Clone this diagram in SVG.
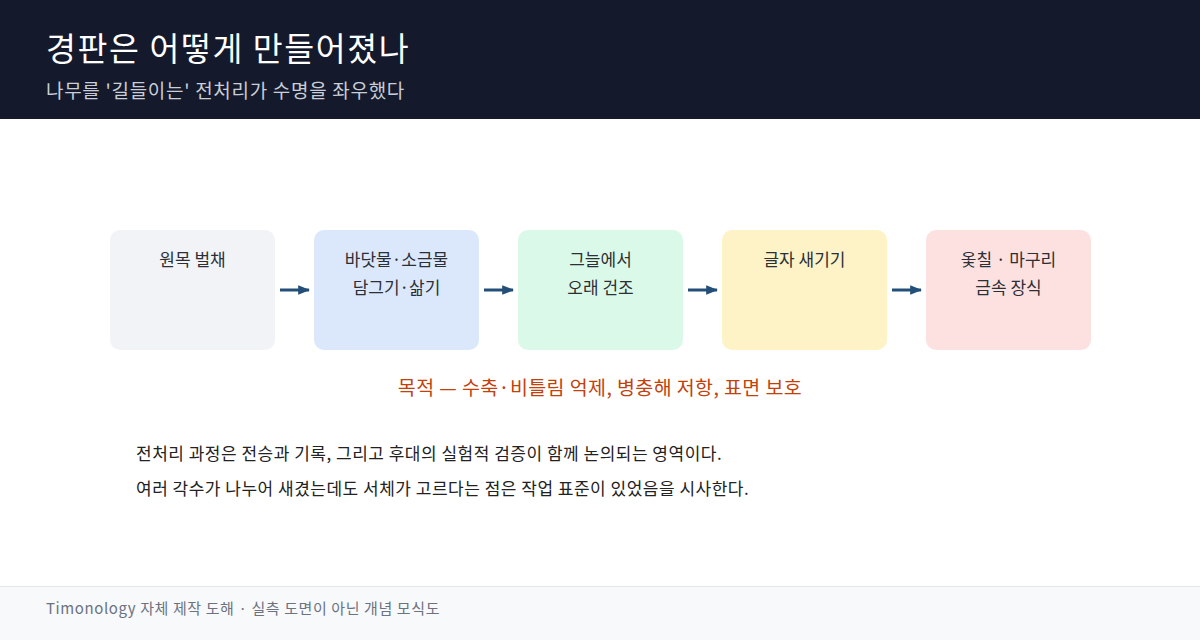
<svg xmlns="http://www.w3.org/2000/svg" width="1200" height="640" viewBox="0 0 1200 640">
<defs>
<style>
text{font-family:"Noto Sans CJK KR","Noto Sans",sans-serif;}
.t{fill:#ffffff;font-size:32.5px;letter-spacing:1.6px;}
.st{fill:#c9ced8;font-size:19px;letter-spacing:0.7px;}
.nl{fill:#2b2f36;font-size:17px;text-anchor:middle;}
.box{stroke:none;}
.conn{stroke:#234e78;stroke-width:3;fill:none;marker-end:url(#ah);}
.goal{fill:#c2410c;font-size:19.5px;text-anchor:middle;letter-spacing:0.4px;}
.body{fill:#222222;font-size:17px;letter-spacing:0.5px;}
.foot{fill:#6b7280;font-size:15px;letter-spacing:0.6px;}
</style>
<marker id="ah" viewBox="0 0 10 10" refX="9" refY="5" markerWidth="4" markerHeight="4" orient="auto" markerUnits="strokeWidth">
<path d="M0,1 L10,5 L0,9 z" fill="#234e78"/>
</marker>
</defs>
<rect x="0" y="0" width="1200" height="640" fill="#ffffff"/>
<rect x="0" y="0" width="1200" height="119" fill="#141a2b"/>
<text class="t" x="46" y="61">경판은 어떻게 만들어졌나</text>
<text class="st" x="46" y="98">나무를 '길들이는' 전처리가 수명을 좌우했다</text>

<g id="n1"><rect class="box" x="110" y="230" width="165" height="120" rx="10" fill="#f1f3f6"/><text class="nl" x="192.5" y="266">원목 벌채</text></g>
<g id="n2"><rect class="box" x="314" y="230" width="165" height="120" rx="10" fill="#dbe8fc"/><text class="nl" x="396.5" y="266">바닷물·소금물</text><text class="nl" x="396.5" y="294">담그기·삶기</text></g>
<g id="n3"><rect class="box" x="518" y="230" width="165" height="120" rx="10" fill="#dbf9e8"/><text class="nl" x="600.5" y="266">그늘에서</text><text class="nl" x="600.5" y="294">오래 건조</text></g>
<g id="n4"><rect class="box" x="722" y="230" width="165" height="120" rx="10" fill="#fdf3c6"/><text class="nl" x="804.5" y="266">글자 새기기</text></g>
<g id="n5"><rect class="box" x="926" y="230" width="165" height="120" rx="10" fill="#fde1e1"/><text class="nl" x="1008.5" y="266">옻칠 · 마구리</text><text class="nl" x="1008.5" y="294">금속 장식</text></g>

<g id="connectors">
<line class="conn" x1="280" y1="290" x2="309" y2="290"/>
<line class="conn" x1="484" y1="290" x2="513" y2="290"/>
<line class="conn" x1="688" y1="290" x2="717" y2="290"/>
<line class="conn" x1="892" y1="290" x2="921" y2="290"/>
</g>

<text class="goal" x="600" y="395">목적 — 수축·비틀림 억제, 병충해 저항, 표면 보호</text>
<text class="body" x="136" y="460">전처리 과정은 전승과 기록, 그리고 후대의 실험적 검증이 함께 논의되는 영역이다.</text>
<text class="body" x="136" y="495">여러 각수가 나누어 새겼는데도 서체가 고르다는 점은 작업 표준이 있었음을 시사한다.</text>

<rect x="0" y="586" width="1200" height="54" fill="#f8f9fb"/>
<line x1="0" y1="586.5" x2="1200" y2="586.5" stroke="#e3e6ea" stroke-width="1"/>
<text class="foot" x="46" y="614">Timonology 자체 제작 도해 · 실측 도면이 아닌 개념 모식도</text>
</svg>
